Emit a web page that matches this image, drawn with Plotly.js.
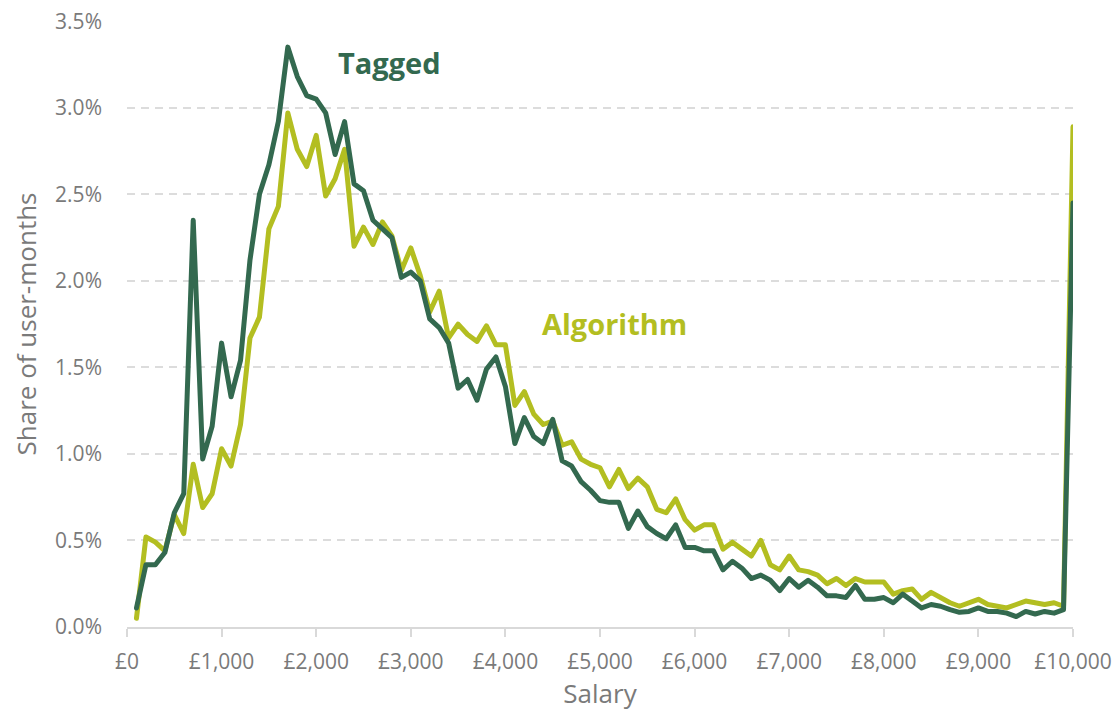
<!DOCTYPE html>
<html>
<head>
<meta charset="utf-8">
<script src="https://cdn.plot.ly/plotly-3.0.1.min.js"></script>
<style>
  html, body { margin: 0; padding: 0; background: #ffffff; }
  #chart { width: 1119px; height: 711px; }
  .scatterlayer path.js-line { stroke-linejoin: round !important; stroke-linecap: round !important; }
</style>
</head>
<body>
<div id="chart"></div>
<script>
// Salary bins (£)
const salary = [
  100, 200, 300, 400, 500, 600, 700, 800, 900, 1000,
  1100, 1200, 1300, 1400, 1500, 1600, 1700, 1800, 1900, 2000,
  2100, 2200, 2300, 2400, 2500, 2600, 2700, 2800, 2900, 3000,
  3100, 3200, 3300, 3400, 3500, 3600, 3700, 3800, 3900, 4000,
  4100, 4200, 4300, 4400, 4500, 4600, 4700, 4800, 4900, 5000,
  5100, 5200, 5300, 5400, 5500, 5600, 5700, 5800, 5900, 6000,
  6100, 6200, 6300, 6400, 6500, 6600, 6700, 6800, 6900, 7000,
  7100, 7200, 7300, 7400, 7500, 7600, 7700, 7800, 7900, 8000,
  8100, 8200, 8300, 8400, 8500, 8600, 8700, 8800, 8900, 9000,
  9100, 9200, 9300, 9400, 9500, 9600, 9700, 9800, 9900, 10000
];

// Share of user-months (%), "Tagged"
const tagged = [
  0.11, 0.36, 0.36, 0.43, 0.66, 0.77, 2.35, 0.97, 1.16, 1.64,
  1.33, 1.54, 2.12, 2.50, 2.67, 2.92, 3.35, 3.18, 3.07, 3.05,
  2.97, 2.73, 2.92, 2.56, 2.52, 2.35, 2.30, 2.25, 2.02, 2.05,
  2.00, 1.78, 1.73, 1.64, 1.38, 1.43, 1.31, 1.49, 1.56, 1.39,
  1.06, 1.21, 1.10, 1.06, 1.20, 0.96, 0.93, 0.84, 0.79, 0.73,
  0.72, 0.72, 0.57, 0.67, 0.58, 0.54, 0.51, 0.59, 0.46, 0.46,
  0.44, 0.44, 0.33, 0.38, 0.34, 0.28, 0.30, 0.27, 0.21, 0.28,
  0.23, 0.27, 0.23, 0.18, 0.18, 0.17, 0.24, 0.16, 0.16, 0.17,
  0.14, 0.19, 0.15, 0.11, 0.13, 0.12, 0.10, 0.085, 0.09, 0.11,
  0.09, 0.09, 0.08, 0.06, 0.09, 0.075, 0.09, 0.08, 0.10, 2.45
];

// Share of user-months (%), "Algorithm"
const algorithm = [
  0.05, 0.52, 0.49, 0.44, 0.65, 0.54, 0.94, 0.69, 0.77, 1.03,
  0.93, 1.17, 1.67, 1.79, 2.30, 2.43, 2.97, 2.76, 2.66, 2.84,
  2.49, 2.59, 2.76, 2.20, 2.31, 2.21, 2.34, 2.26, 2.06, 2.19,
  2.03, 1.82, 1.94, 1.67, 1.75, 1.69, 1.65, 1.74, 1.63, 1.63,
  1.28, 1.36, 1.23, 1.17, 1.19, 1.05, 1.07, 0.97, 0.94, 0.92,
  0.81, 0.91, 0.80, 0.86, 0.81, 0.68, 0.66, 0.74, 0.62, 0.56,
  0.59, 0.59, 0.45, 0.49, 0.45, 0.41, 0.50, 0.36, 0.33, 0.41,
  0.33, 0.32, 0.30, 0.25, 0.28, 0.24, 0.28, 0.26, 0.26, 0.26,
  0.19, 0.21, 0.22, 0.16, 0.20, 0.17, 0.14, 0.12, 0.14, 0.16,
  0.13, 0.12, 0.11, 0.13, 0.15, 0.14, 0.13, 0.14, 0.12, 2.89
];

// X-axis ticks
const xTickVals = [0, 1000, 2000, 3000, 4000, 5000, 6000, 7000, 8000, 9000, 10000];
const xTickText = ["£0", "£1,000", "£2,000", "£3,000", "£4,000", "£5,000", "£6,000", "£7,000", "£8,000", "£9,000", "£10,000"];

const DARK = "#33694f";
const LIGHT = "#b3be21";
const GREY = "#7a7a7a";
const FONT = "Open Sans, Noto Sans, sans-serif";

const traces = [
  {
    x: salary, y: algorithm, name: "Algorithm", type: "scatter", mode: "lines",
    line: { color: LIGHT, width: 5 }, cliponaxis: false, hoverinfo: "x+y"
  },
  {
    x: salary, y: tagged, name: "Tagged", type: "scatter", mode: "lines",
    line: { color: DARK, width: 5 }, cliponaxis: false, hoverinfo: "x+y"
  }
];

const layout = {
  width: 1119, height: 711,
  margin: { l: 127, r: 46, t: 21, b: 84 },
  paper_bgcolor: "#ffffff", plot_bgcolor: "#ffffff",
  showlegend: false,
  font: { family: FONT, color: GREY },
  xaxis: {
    range: [0, 10000],
    tickvals: xTickVals, ticktext: xTickText,
    showgrid: false, zeroline: false,
    showline: true, linecolor: "#d9d9d9", linewidth: 2,
    ticks: "outside", ticklen: 8, tickwidth: 2, tickcolor: "#d9d9d9",
    ticklabelstandoff: 7,
    tickfont: { family: FONT, size: 21, color: GREY },
    title: { text: "Salary", font: { family: FONT, size: 26, color: GREY }, standoff: 8 }
  },
  yaxis: {
    range: [0, 3.501], dtick: 0.5, tick0: 0,
    tickformat: ".1f", ticksuffix: "%",
    showgrid: true, gridcolor: "#dcdcdc", gridwidth: 2, griddash: "8px,6px",
    zeroline: false, showline: false, ticks: "",
    ticklabelstandoff: 24,
    tickfont: { family: FONT, size: 21, color: GREY },
    title: { text: "Share of user-months", font: { family: FONT, size: 26, color: GREY }, standoff: 10 }
  },
  annotations: [
    {
      x: 2780, y: 3.26, xref: "x", yref: "y", text: "Tagged", showarrow: false,
      font: { family: FONT, size: 29, color: DARK, weight: "bold" }
    },
    {
      x: 5150, y: 1.755, xref: "x", yref: "y", text: "Algorithm", showarrow: false,
      font: { family: FONT, size: 29, color: LIGHT, weight: "bold" }
    }
  ]
};

Plotly.newPlot("chart", traces, layout, { displayModeBar: false, staticPlot: true });
</script>
</body>
</html>
